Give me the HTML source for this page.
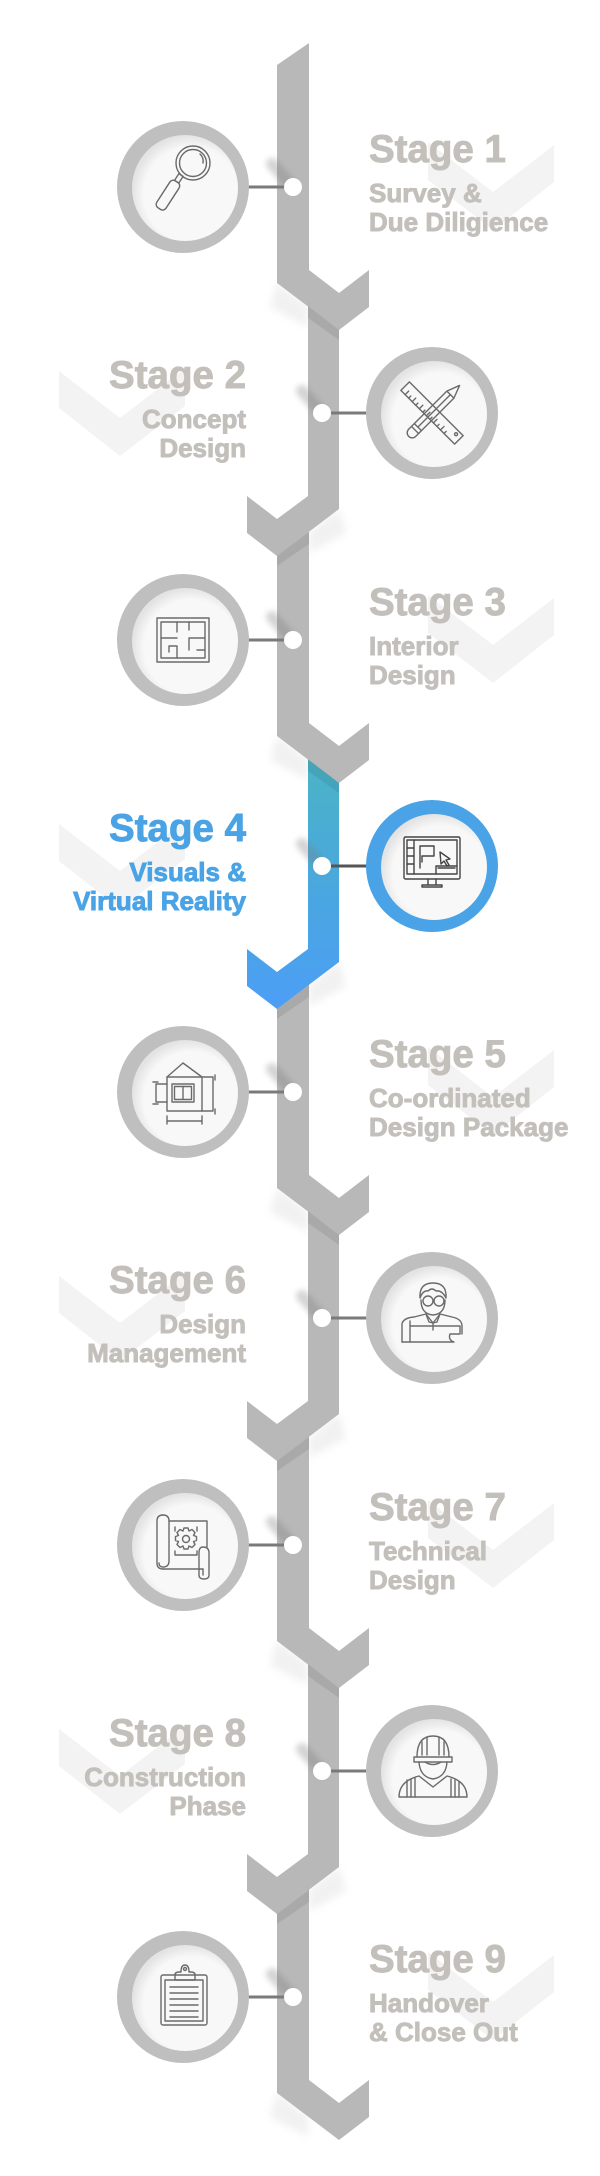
<!DOCTYPE html>
<html>
<head>
<meta charset="utf-8">
<style>
html,body{margin:0;padding:0;background:#fff;}
svg{display:block;}
.t{font-family:"Liberation Sans",Arial,sans-serif;font-weight:bold;fill:#c3c0bb;stroke:#c3c0bb;stroke-width:0.9;paint-order:stroke;}
.h{font-size:38.5px;}
.s{font-size:26px;}
.blue{fill:#4aa3e4;stroke:#4aa3e4;}
.ic{fill:none;stroke:#6a6a6a;stroke-width:1.4;stroke-linejoin:round;stroke-linecap:round;}
</style>
</head>
<body>
<svg width="600" height="2176" viewBox="0 0 600 2176" xmlns="http://www.w3.org/2000/svg">
<defs>
  <filter id="b4" x="-50%" y="-50%" width="200%" height="200%"><feGaussianBlur stdDeviation="4"/></filter>
  <filter id="b3" x="-50%" y="-50%" width="200%" height="200%"><feGaussianBlur stdDeviation="3"/></filter>
  <radialGradient id="inner" cx="0.56" cy="0.56" r="0.56">
    <stop offset="0.8" stop-color="#f8f8f8"/>
    <stop offset="1" stop-color="#e3e3e3"/>
  </radialGradient>
  <linearGradient id="blue" gradientUnits="userSpaceOnUse" x1="0" y1="746" x2="0" y2="1009">
    <stop offset="0" stop-color="#4bb5c3"/>
    <stop offset="0.5" stop-color="#4aa8dc"/>
    <stop offset="1" stop-color="#4c9ef6"/>
  </linearGradient>
</defs>

<!-- watermark chevrons -->
<g fill="#f3f3f3">
  <polygon points="554,145 493,192 428,142 428,180 493,230 554,182"/>
  <polygon points="59,371 120,418 185,368 185,406 120,456 59,408"/>
  <polygon points="554,598 493,645 428,595 428,633 493,683 554,635"/>
  <polygon points="59,824 120,871 185,821 185,859 120,909 59,861"/>
  <polygon points="554,1050 493,1097 428,1047 428,1085 493,1135 554,1087"/>
  <polygon points="59,1276 120,1323 185,1273 185,1311 120,1361 59,1313"/>
  <polygon points="554,1503 493,1550 428,1500 428,1538 493,1588 554,1540"/>
  <polygon points="59,1729 120,1776 185,1726 185,1764 120,1814 59,1766"/>
  <polygon points="554,1955 493,2002 428,1952 428,1990 493,2040 554,1992"/>
</g>

<!-- soft outer shadows near chevrons -->
<g fill="#c8c8c8" opacity="0.25" filter="url(#b4)">
  <polygon points="277,283 308,306 308,327 270,307"/>
  <polygon points="339,509 309,532 309,553 346,533"/>
  <polygon points="277,736 308,759 308,780 270,760"/>
  <polygon points="339,962 309,985 309,1006 346,986"/>
  <polygon points="277,1188 308,1211 308,1232 270,1212"/>
  <polygon points="339,1414 309,1437 309,1458 346,1438"/>
  <polygon points="277,1641 308,1664 308,1685 270,1665"/>
  <polygon points="339,1867 309,1890 309,1911 346,1891"/>
  <polygon points="277,2093 308,2116 308,2137 270,2117"/>
</g>

<!-- segments drawn bottom to top -->
<g fill="#b8b8b8">
  <polygon points="309,1877 309,2080 339,2103 369,2080 369,2117 339,2140 277,2093 277,1877"/>
  <polygon points="308,1651 308,1854 277,1877 247,1854 247,1891 277,1914 339,1867 339,1651"/>
  <polygon points="309,1425 309,1628 339,1651 369,1628 369,1665 339,1688 277,1641 277,1425"/>
  <polygon points="308,1198 308,1401 277,1424 247,1401 247,1438 277,1461 339,1414 339,1198"/>
  <polygon points="309,972 309,1175 339,1198 369,1175 369,1212 339,1235 277,1188 277,972"/>
  <polygon fill="url(#blue)" points="308,746 308,949 277,972 247,949 247,986 277,1009 339,962 339,746"/>
  <polygon points="309,520 309,723 339,746 369,723 369,760 339,783 277,736 277,520"/>
  <polygon points="308,293 308,496 277,519 247,496 247,533 277,556 339,509 339,293"/>
  <polygon points="309,43 309,270 339,293 369,270 369,307 339,330 277,283 277,65"/>
</g>

<!-- fold shadows on next segment -->
<g fill="#000" opacity="0.08">
  <polygon points="308,306 339,330 339,340 308,318"/>
  <polygon points="309,532 277,556 277,566 309,544"/>
  <polygon points="308,759 339,783 339,793 308,771"/>
  <polygon points="309,985 277,1009 277,1019 309,997"/>
  <polygon points="308,1211 339,1235 339,1245 308,1223"/>
  <polygon points="309,1437 277,1461 277,1471 309,1449"/>
  <polygon points="308,1664 339,1688 339,1698 308,1676"/>
  <polygon points="309,1890 277,1914 277,1924 309,1902"/>
</g>

<!-- dot shadows -->
<g stroke="#7a7a7a" stroke-width="12" stroke-linecap="round" opacity="0.32" filter="url(#b3)">
  <line x1="272" y1="164" x2="291" y2="185"/>
  <line x1="302" y1="391" x2="320" y2="411"/>
  <line x1="272" y1="617" x2="291" y2="638"/>
  <line x1="302" y1="844" x2="320" y2="864"/>
  <line x1="272" y1="1069" x2="291" y2="1090"/>
  <line x1="302" y1="1296" x2="320" y2="1316"/>
  <line x1="272" y1="1522" x2="291" y2="1543"/>
  <line x1="302" y1="1749" x2="320" y2="1769"/>
  <line x1="272" y1="1974" x2="291" y2="1995"/>
</g>

<!-- connectors -->
<g stroke="#7a7a7a" stroke-width="3">
  <line x1="247" y1="187" x2="290" y2="187"/>
  <line x1="325" y1="413" x2="368" y2="413"/>
  <line x1="247" y1="640" x2="290" y2="640"/>
  <line x1="325" y1="866" x2="368" y2="866" stroke="#555"/>
  <line x1="247" y1="1092" x2="290" y2="1092"/>
  <line x1="325" y1="1318" x2="368" y2="1318"/>
  <line x1="247" y1="1545" x2="290" y2="1545"/>
  <line x1="325" y1="1771" x2="368" y2="1771"/>
  <line x1="247" y1="1997" x2="290" y2="1997"/>
</g>

<!-- dots -->
<g fill="#ffffff">
  <circle cx="293" cy="187" r="9"/>
  <circle cx="322" cy="413" r="9"/>
  <circle cx="293" cy="640" r="9"/>
  <circle cx="322" cy="866" r="9"/>
  <circle cx="293" cy="1092" r="9"/>
  <circle cx="322" cy="1318" r="9"/>
  <circle cx="293" cy="1545" r="9"/>
  <circle cx="322" cy="1771" r="9"/>
  <circle cx="293" cy="1997" r="9"/>
</g>

<!-- circles -->
<g>
  <circle cx="183" cy="187" r="66" fill="#bfbfbf"/><circle cx="185" cy="188" r="53" fill="url(#inner)"/>
  <circle cx="432" cy="413" r="66" fill="#bfbfbf"/><circle cx="434" cy="414" r="53" fill="url(#inner)"/>
  <circle cx="183" cy="640" r="66" fill="#bfbfbf"/><circle cx="185" cy="641" r="53" fill="url(#inner)"/>
  <circle cx="432" cy="866" r="66" fill="#4aa3e6"/><circle cx="434" cy="867" r="53" fill="url(#inner)"/>
  <circle cx="183" cy="1092" r="66" fill="#bfbfbf"/><circle cx="185" cy="1093" r="53" fill="url(#inner)"/>
  <circle cx="432" cy="1318" r="66" fill="#bfbfbf"/><circle cx="434" cy="1319" r="53" fill="url(#inner)"/>
  <circle cx="183" cy="1545" r="66" fill="#bfbfbf"/><circle cx="185" cy="1546" r="53" fill="url(#inner)"/>
  <circle cx="432" cy="1771" r="66" fill="#bfbfbf"/><circle cx="434" cy="1772" r="53" fill="url(#inner)"/>
  <circle cx="183" cy="1997" r="66" fill="#bfbfbf"/><circle cx="185" cy="1998" r="53" fill="url(#inner)"/>
</g>

<!-- icons -->
<!-- 1 magnifier -->
<g class="ic" transform="translate(183,187)">
  <circle cx="10" cy="-24" r="17"/>
  <circle cx="10" cy="-24" r="13.5"/>
  <path d="M17,-33 A10,10 0 0 1 20,-24"/>
  <g transform="translate(-2,-12) rotate(33)">
    <rect x="-2.5" y="0" width="5" height="8"/>
    <rect x="-5.5" y="8" width="11" height="32" rx="4"/>
  </g>
</g>
<!-- 2 ruler & pencil -->
<g class="ic" transform="translate(432,413)">
  <g transform="rotate(-45)">
    <rect x="-6" y="-38" width="12" height="76"/>
    <path d="M-6,-32 h5 M-6,-27 h3 M-6,-22 h5 M-6,-17 h3 M-6,-12 h5 M-6,-7 h3 M-6,-2 h5 M-6,3 h3 M-6,8 h5 M-6,13 h3 M-6,18 h5 M-6,23 h3"/>
    <circle cx="2" cy="32" r="1.5"/>
  </g>
  <g transform="rotate(45)">
    <path d="M-5,-26 L0,-39 L5,-26 Z"/>
    <path d="M-5,-26 V28 a5,5 0 0 0 10,0 V-26"/>
    <path d="M0,-26 V20 M-5,20 H5 M-5,24 H5"/>
  </g>
</g>
<!-- 3 floor plan -->
<g class="ic" transform="translate(183,640)">
  <rect x="-26" y="-22" width="52" height="44"/>
  <rect x="-22" y="-18" width="44" height="36"/>
  <path d="M-22,-2 H-6 M-6,-18 V-8 M-6,6 V18 M6,-2 H22 M6,-2 V10 M-14,6 H-6 M-14,6 V12 M6,-18 V-10 M14,10 H22"/>
</g>
<!-- 4 monitor -->
<g class="ic" transform="translate(432,866)" style="stroke:#444">
  <rect x="-28" y="-29" width="56" height="42" rx="1.5"/>
  <rect x="-25" y="-26" width="50" height="34"/>
  <path d="M-18,-26 V8 M-25,-18 H-18 M-25,-10 H-18 M-25,-2 H-18"/>
  <path d="M-12,-20 H2 V-10 H-10 M-12,-20 V2 M-10,-10 V-4"/>
  <path d="M4,8 V0 H25 M6,2 H23"/>
  <path d="M8,-14 L9,-2 L12,-5 L15,0 L17,-1 L14,-6 L18,-7 Z"/>
  <path d="M-4,13 V19 M4,13 V19 M-10,19 H10 V21 H-10 Z"/>
</g>
<!-- 5 house -->
<g class="ic" transform="translate(184,1092)">
  <path d="M-17,-15 L-1,-29 L18,-15"/>
  <rect x="-17" y="-15" width="35" height="34"/>
  <rect x="-12" y="-8" width="22" height="18"/>
  <rect x="-9.5" y="-5.5" width="17" height="13"/>
  <path d="M-1,-5.5 V7.5"/>
  <path d="M-17,-8 H-28 V10 H-17"/>
  <path d="M18,-15 H29 V19 H18"/>
  <path d="M-17,29 H18 M-17,24 V32 M18,24 V32"/>
  <path d="M-31,-10 H-26 M-31,12 H-26 M31,-17 V-12 M31,17 V22"/>
</g>
<!-- 6 person -->
<g class="ic" transform="translate(432,1318)">
  <path d="M-11,-18 Q-11,-4 1,-3 Q13,-4 13,-18"/>
  <path d="M-12,-20 Q-13,-35 1,-35 Q15,-35 14,-20 Q10,-28 4,-27 Q0,-31 -4,-27 Q-9,-28 -12,-20 Z"/>
  <circle cx="-4" cy="-17" r="5"/>
  <circle cx="7" cy="-17" r="5"/>
  <path d="M1,-17 H2"/>
  <path d="M-30,24 V6 Q-29,0 -18,-1 L-6,-4 L1,5 L8,-4 L20,-1 Q30,1 30,8 V16"/>
  <path d="M-6,-4 L-3,4 L1,5 L5,4 L8,-4 M1,5 V12"/>
  <path d="M-22,3 V24 M-22,8 H28 V16 H18 Q16,22 22,24 H-30"/>
</g>
<!-- 7 blueprint -->
<g class="ic" transform="translate(183,1545)">
  <path d="M-20,-30 Q-26,-30 -26,-24 V18 Q-26,24 -20,24"/>
  <path d="M-20,-30 Q-14,-30 -14,-24 V16 Q-14,22 -20,22 Q-24,22 -24,18"/>
  <path d="M-14,-24 H24 V2"/>
  <path d="M-20,24 H20"/>
  <path d="M20,2 Q26,2 26,8 V30 Q26,34 21,34 Q16,34 16,30 V8 Q16,2 20,2"/>
  <path d="M20,24 V30"/>
  <circle cx="3" cy="-6" r="3.5"/>
  <path d="M1,-17 h4 l1,3 l3,-1.5 l3,3 l-1.5,3 l3,1 v4 l-3,1 l1.5,3 l-3,3 l-3,-1.5 l-1,3 h-4 l-1,-3 l-3,1.5 l-3,-3 l1.5,-3 l-3,-1 v-4 l3,-1 l-1.5,-3 l3,-3 l3,1.5 z"/>
  <path d="M-8,6 V10 H14 V6 M-8,-18 V-14 M14,-18 V-14"/>
</g>
<!-- 8 worker -->
<g class="ic" transform="translate(432,1771)">
  <path d="M-15,-14 Q-15,-35 1,-35 Q17,-35 17,-14"/>
  <path d="M-5,-33 V-16 M7,-33 V-16 M-10,-29 V-16 M12,-29 V-16"/>
  <path d="M-18,-14 H20 V-9 H-18 Z"/>
  <path d="M-13,-9 Q-12,6 1,8 Q14,6 15,-9"/>
  <path d="M-7,-9 Q1,-4 9,-9"/>
  <path d="M-33,26 Q-33,10 -13,5 L1,16 L15,5 Q35,10 35,26 Z"/>
  <path d="M-25,9 V26 M-21,8 V26 M-17,7 V26 M23,9 V26 M19,8 V26 M27,11 V26"/>
</g>
<!-- 9 clipboard -->
<g class="ic" transform="translate(183,1997)">
  <rect x="-22" y="-22" width="46" height="50" rx="2"/>
  <rect x="-18" y="-17" width="38" height="41"/>
  <path d="M-8,-17 V-22 Q-8,-25 -4,-25 H-2 Q-2,-32 2,-32 Q6,-32 6,-25 H8 Q12,-25 12,-22 V-17 Z"/>
  <circle cx="2" cy="-28" r="1.5"/>
  <path d="M-13,-10 H15 M-13,-4 H15 M-13,2 H15 M-13,8 H15 M-13,14 H15 M-13,20 H15"/>
</g>

<!-- text -->
<text class="t h" x="369" y="162">Stage 1</text>
<text class="t s" x="369" y="202">Survey &amp;</text>
<text class="t s" x="369" y="231">Due Diligience</text>

<text class="t h" x="246" y="388" text-anchor="end">Stage 2</text>
<text class="t s" x="246" y="428" text-anchor="end">Concept</text>
<text class="t s" x="246" y="457" text-anchor="end">Design</text>

<text class="t h" x="369" y="615">Stage 3</text>
<text class="t s" x="369" y="655">Interior</text>
<text class="t s" x="369" y="684">Design</text>

<text class="t h blue" x="246" y="841" text-anchor="end">Stage 4</text>
<text class="t s blue" x="246" y="881" text-anchor="end">Visuals &amp;</text>
<text class="t s blue" x="246" y="910" text-anchor="end">Virtual Reality</text>

<text class="t h" x="369" y="1067">Stage 5</text>
<text class="t s" x="369" y="1107">Co-ordinated</text>
<text class="t s" x="369" y="1136">Design Package</text>

<text class="t h" x="246" y="1293" text-anchor="end">Stage 6</text>
<text class="t s" x="246" y="1333" text-anchor="end">Design</text>
<text class="t s" x="246" y="1362" text-anchor="end">Management</text>

<text class="t h" x="369" y="1520">Stage 7</text>
<text class="t s" x="369" y="1560">Technical</text>
<text class="t s" x="369" y="1589">Design</text>

<text class="t h" x="246" y="1746" text-anchor="end">Stage 8</text>
<text class="t s" x="246" y="1786" text-anchor="end">Construction</text>
<text class="t s" x="246" y="1815" text-anchor="end">Phase</text>

<text class="t h" x="369" y="1972">Stage 9</text>
<text class="t s" x="369" y="2012">Handover</text>
<text class="t s" x="369" y="2041">&amp; Close Out</text>
</svg>
</body>
</html>
